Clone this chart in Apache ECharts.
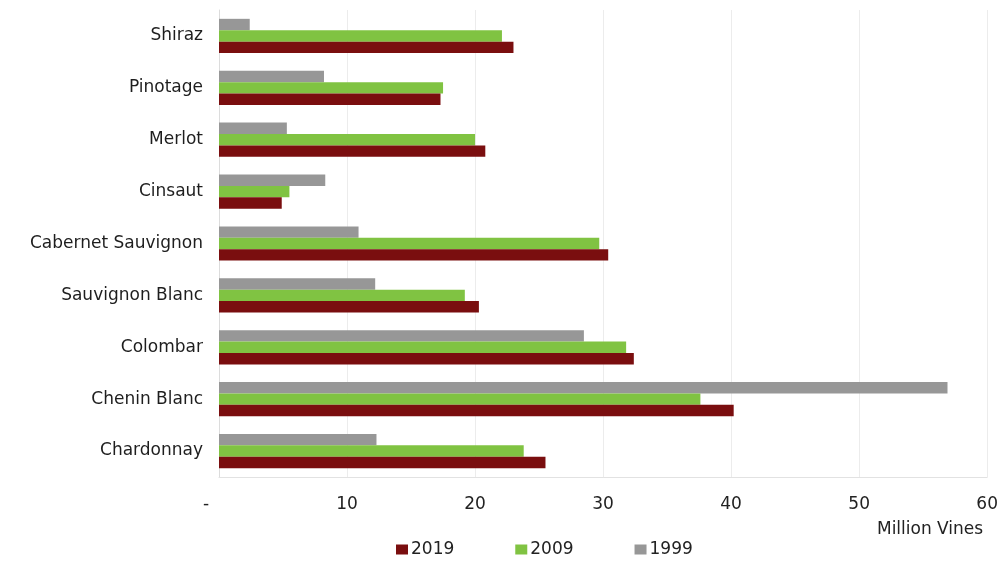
<!DOCTYPE html>
<html>
<head>
<meta charset="utf-8">
<script src="https://cdn.jsdelivr.net/npm/echarts@6/dist/echarts.min.js"></script>
<style>html,body{margin:0;padding:0;background:#fff}#c{width:1001px;height:567px}</style>
</head>
<body>
<div id="c"></div>
<script>
const categories = ['Chardonnay','Chenin Blanc','Colombar','Sauvignon Blanc','Cabernet Sauvignon','Cinsaut','Merlot','Pinotage','Shiraz'];
const v2019 = [25.5, 40.2, 32.4, 20.3, 30.4, 4.9, 20.8, 17.3, 23.0];
const v2009 = [23.8, 37.6, 31.8, 19.2, 29.7, 5.5, 20.0, 17.5, 22.1];
const v1999 = [12.3, 56.9, 28.5, 12.2, 10.9, 8.3, 5.3, 8.2, 2.4];
const legendOrder = ['2019','2009','1999'];
const font = 'DejaVu Sans';

const chart = echarts.init(document.getElementById('c'));
// draw order: first series sits at the top of each category band
const seriesDefs = [
  {name: '1999', data: v1999, color: '#979797'},
  {name: '2009', data: v2009, color: '#80c342'},
  {name: '2019', data: v2019, color: '#7a0e0f'}
];
chart.setOption({
  animation: false,
  textStyle: {fontFamily: font},
  grid: {left: 219, right: 13, top: 10, bottom: 90, containLabel: false},
  legend: {
    data: legendOrder,
    left: 391, top: 536,
    itemWidth: 12, itemHeight: 10, itemGap: 61,
    icon: 'rect',
    textStyle: {fontFamily: font, fontSize: 17, color: '#222', padding: [0,0,0,-2]}
  },
  xAxis: {
    type: 'value', min: 0, max: 60, interval: 10,
    name: 'Million Vines', nameLocation: 'end', nameGap: -4,
    nameTextStyle: {fontFamily: font, fontSize: 17, color: '#222', align: 'right', verticalAlign: 'top', padding: [44,0,0,0]},
    axisLine: {show: true, lineStyle: {color: '#e2e2e2'}},
    axisTick: {show: false},
    splitLine: {show: true, lineStyle: {color: '#ececec'}},
    axisLabel: {
      fontFamily: font, fontSize: 17, color: '#222', margin: 19,
      formatter: v => v === 0 ? '{d|-}' : String(v),
      rich: {d: {fontFamily: font, fontSize: 17, color: '#222', padding: [0,26,0,0]}}
    }
  },
  yAxis: {
    type: 'category', data: categories,
    axisLine: {show: true, lineStyle: {color: '#dcdcdc'}},
    axisTick: {show: false},
    axisLabel: {fontFamily: font, fontSize: 17, color: '#1e1e1e', margin: 16}
  },
  series: seriesDefs.map(s => ({
    name: s.name, type: 'bar', data: s.data,
    barGap: '0%', barCategoryGap: '34%',
    itemStyle: {color: s.color}
  }))
});
</script>
</body>
</html>
